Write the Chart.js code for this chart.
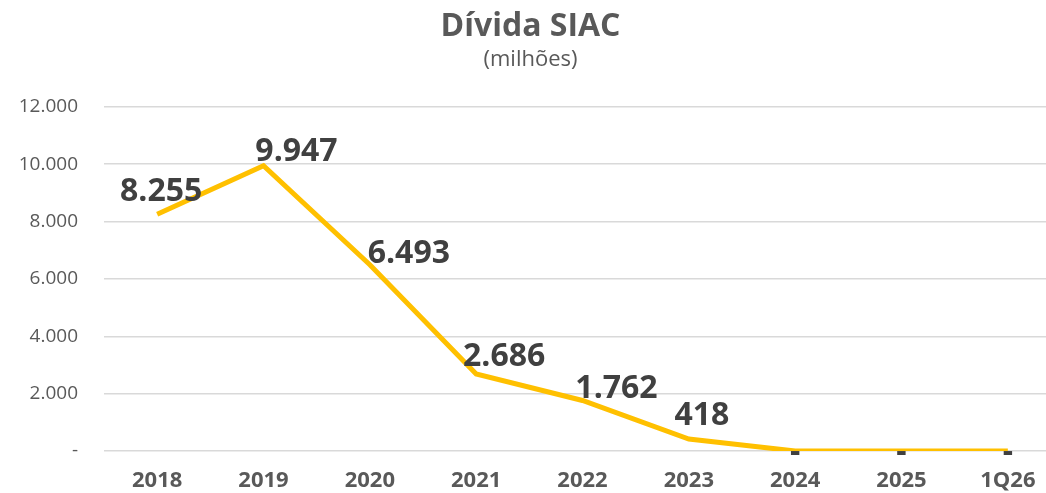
<!DOCTYPE html>
<html>
<head>
<meta charset="utf-8">
<script src="https://cdn.jsdelivr.net/npm/chart.js@4"></script>
<style>
html,body{margin:0;padding:0;background:#fff;overflow:hidden;}
#wrap{position:relative;width:1076px;height:493px;}
</style>
</head>
<body>
<div id="wrap"><canvas id="c"></canvas></div>
<script>
const categories = ['2018','2019','2020','2021','2022','2023','2024','2025','1Q26'];
const debtValues = [8255, 9947, 6493, 2686, 1762, 418, 0, 0, 0];
const yTicks = [0, 2000, 4000, 6000, 8000, 10000, 12000];
const titleText = 'Dívida SIAC';
const subtitleText = '(milhões)';

const FONT = "'Open Sans', sans-serif";
function fmt(v){
  if (v === 0) return '-';
  return v.toString().replace(/\B(?=(\d{3})+(?!\d))/g, '.');
}

// label offsets relative to the point (styling, not data)
const labelOffsets = [[4,-22],[33,-14],[39,-11],[28,-17],[34,-12],[13,-23],[0,2],[0,2],[0,2]];

const labelPlugin = {
  id: 'valueLabels',
  afterDatasetsDraw(chart){
    const ctx = chart.ctx;
    const meta = chart.getDatasetMeta(0);
    ctx.save();
    ctx.fillStyle = '#404040';
    ctx.textAlign = 'center';
    ctx.textBaseline = 'middle';
    ctx.font = "bold 32px " + FONT;
    meta.data.forEach((pt, i) => {
      const v = chart.data.datasets[0].data[i];
      const [dx, dy] = labelOffsets[i];
      ctx.fillText(fmt(v), pt.x + dx, pt.y + dy);
    });
    ctx.restore();
  }
};

new Chart(document.getElementById('c'), {
  type: 'line',
  data: {
    labels: categories,
    datasets: [{
      data: debtValues,
      borderColor: '#FFC000',
      borderWidth: 5,
      pointRadius: 0,
      tension: 0,
      fill: false
    }]
  },
  options: {
    responsive: true,
    maintainAspectRatio: false,
    animation: false,
    layout: { padding: { left: 0, right: 15, top: 0, bottom: 0 } },
    plugins: {
      legend: { display: false },
      tooltip: { enabled: false },
      title: {
        display: true,
        text: titleText,
        color: '#595959',
        font: { family: FONT, size: 32, weight: 'bold' },
        padding: { top: 8, bottom: 0 }
      },
      subtitle: {
        display: true,
        text: subtitleText,
        color: '#595959',
        font: { family: FONT, size: 22, weight: 'normal' },
        padding: { top: 0, bottom: 34 }
      }
    },
    scales: {
      x: {
        offset: true,
        grid: { display: false, drawTicks: false },
        border: { display: false },
        ticks: {
          color: '#595959',
          font: { family: FONT, size: 22, weight: 'bold' },
          padding: 17,
          maxRotation: 0
        },
        afterFit(scale){ scale.height = 42; }
      },
      y: {
        min: 0,
        max: 12000,
        grid: { color: '#D9D9D9', lineWidth: 1.5, drawTicks: false },
        border: { display: false },
        afterBuildTicks(scale){ scale.ticks = yTicks.map(v => ({ value: v })); },
        ticks: {
          color: '#595959',
          font: { family: FONT, size: 19 },
          padding: 26,
          callback: (v) => fmt(v)
        },
        afterFit(scale){ scale.width = 104; }
      }
    }
  },
  plugins: [labelPlugin]
});
</script>
</body>
</html>
